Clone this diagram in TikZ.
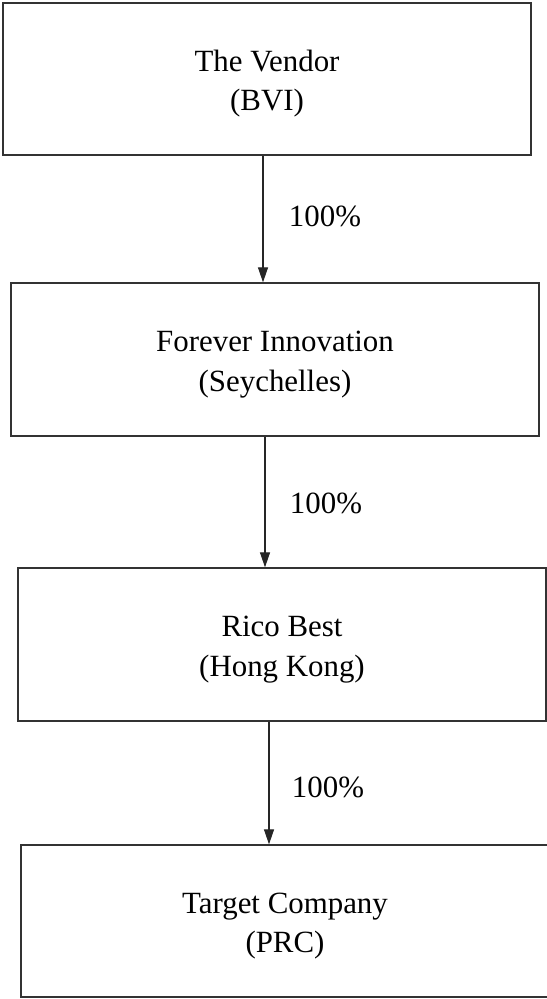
\documentclass[tikz,border=0pt]{standalone}
\usepackage{fontspec}
\setmainfont{Liberation Serif}
\usetikzlibrary{arrows.meta}
\newcommand\twolines[2]{\raisebox{-4bp}[\height][\depth]{\begin{tabular}{@{}c@{}}#1\\#2\end{tabular}}}
\begin{document}
\begin{tikzpicture}[x=1bp,y=-1bp,
  entity/.style={draw=black!80, line width=1.3bp, rectangle, minimum width=528bp,
    inner sep=0pt, font=\fontsize{31}{40}\selectfont},
  link/.style={draw=black!85, line width=1.1bp, -{Triangle[length=15bp,width=10bp]}},
  pct/.style={font=\fontsize{31}{36}\selectfont, inner sep=0pt}]
\clip (0,0) rectangle (547,999);
\fill[white] (0,0) rectangle (547,999);
\node[entity, minimum height=152bp] (v) at (267,79) {\twolines{The Vendor}{(BVI)}};
\node[entity, minimum height=153bp] (f) at (275,359.5) {\twolines{Forever Innovation}{(Seychelles)}};
\node[entity, minimum height=153bp] (r) at (282,644.5) {\twolines{Rico Best}{(Hong Kong)}};
\node[entity, minimum height=152bp] (t) at (285,921) {\twolines{Target Company}{(PRC)}};
\coordinate (x1) at (263,0);
\coordinate (x2) at (265,0);
\coordinate (x3) at (269,0);
\draw[link] (v.south -| x1) -- (f.north -| x1);
\draw[link] (f.south -| x2) -- (r.north -| x2);
\draw[link] (r.south -| x3) -- (t.north -| x3);
\node[pct] (p1) at (325,216) {100\%};
\node[pct] (p2) at (326,503) {100\%};
\node[pct] (p3) at (328,787) {100\%};
\end{tikzpicture}
\end{document}
